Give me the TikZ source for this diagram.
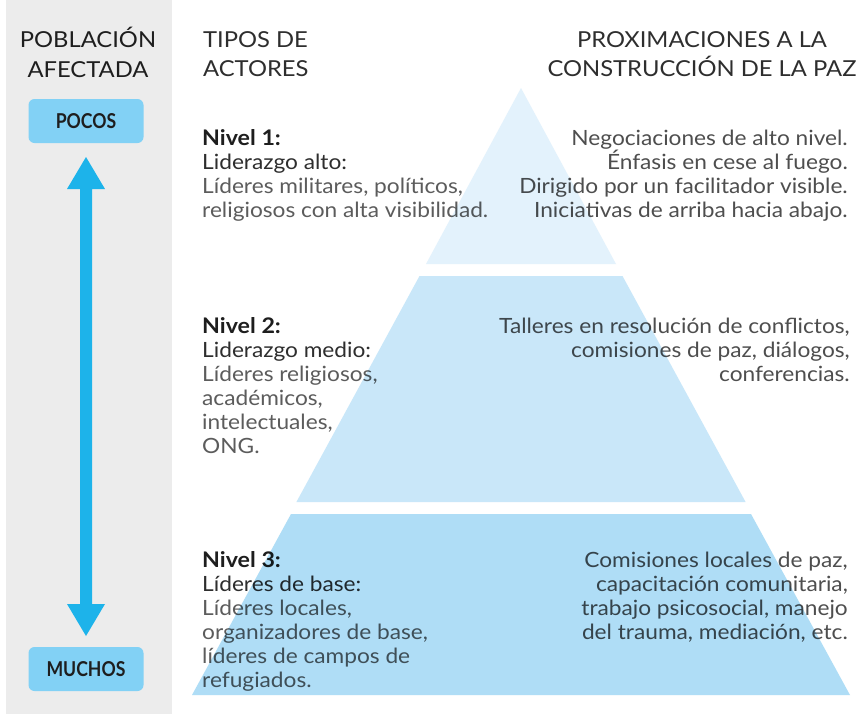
\documentclass[tikz,border=0pt]{standalone}
\usepackage{fontspec}
\setmainfont{Lato}[FakeStretch=1.08]
\newfontfamily\tagfont{Lato}[FakeStretch=0.86]
\definecolor{panel}{HTML}{ECECEC}
\definecolor{pyrA}{HTML}{E3F2FC}
\definecolor{pyrB}{HTML}{C9E7F9}
\definecolor{pyrC}{HTML}{AFDDF6}
\definecolor{arrowblue}{HTML}{1DB3EA}
\definecolor{boxblue}{HTML}{82D1F5}
\definecolor{dark}{HTML}{1E1E1E}
\definecolor{mid}{HTML}{2E2E2E}
\definecolor{soft}{HTML}{5C5C5C}
\definecolor{rtext}{HTML}{4E4E4E}
\begin{document}
\begin{tikzpicture}[x=1pt,y=-1pt,
  hdr/.style={anchor=base, inner sep=0, font=\fontsize{22}{26}\selectfont, text=mid},
  hdrL/.style={anchor=base west, inner sep=0, font=\fontsize{22}{26}\selectfont, text=mid},
  lvl/.style={anchor=base west, inner sep=0, font=\fontsize{21.5}{24}\selectfont\bfseries, text=dark},
  sub/.style={anchor=base west, inner sep=0, font=\fontsize{21}{24}\selectfont, text=mid},
  desc/.style={anchor=base west, inner sep=0, font=\fontsize{21}{24}\selectfont, text=soft},
  appr/.style={anchor=base east, inner sep=0, font=\fontsize{21}{24}\selectfont, text=rtext},
  tag/.style={fill=boxblue, rounded corners=6pt, minimum width=115pt, minimum height=44pt, inner sep=0, font=\tagfont\fontsize{20.5}{22}\selectfont\bfseries, text=dark},
  tier/.style={blend mode=multiply}
]
\useasboundingbox (0,0) rectangle (860,716);
\fill[white] (0,0) rectangle (860,716);
\fill[panel] (6,0) rectangle (172,714);

% left panel
\node[hdr, text=dark] (pob) at (88,47) {POBLACIÓN};
\node[hdr, text=dark] (afe) at (88,77) {AFECTADA};
\node[tag] (pocos) at (86,121) {POCOS};
\node[tag] (muchos) at (86,669) {MUCHOS};
\fill[arrowblue] (86,157) -- (105,189) -- (92,189) -- (92,604) -- (105,604) -- (86,636)
  -- (67,604) -- (80,604) -- (80,189) -- (67,189) -- cycle;

% headers
\node[hdrL] (tip1) at (203,47) {TIPOS DE};
\node[hdrL] (tip2) at (203,76) {ACTORES};
\node[hdr] (apr1) at (702,47) {PROXIMACIONES A LA};
\node[hdr] (apr2) at (702,76) {CONSTRUCCIÓN DE LA PAZ};

% level 1
\node[lvl] (n1) at (202,145) {Nivel 1:};
\node[sub] (n1a) at (202,169) {Liderazgo alto:};
\node[desc] (n1b) at (202,193) {Líderes militares, políticos,};
\node[desc] (n1c) at (202,217) {religiosos con alta visibilidad.};
\node[appr] (r1a) at (848,145) {Negociaciones de alto nivel.};
\node[appr] (r1b) at (848,169) {Énfasis en cese al fuego.};
\node[appr] (r1c) at (848,193) {Dirigido por un facilitador visible.};
\node[appr] (r1d) at (848,217) {Iniciativas de arriba hacia abajo.};

% level 2
\node[lvl] (n2) at (202,333) {Nivel 2:};
\node[sub] (n2a) at (202,357) {Liderazgo medio:};
\node[desc] (n2b) at (202,381) {Líderes religiosos,};
\node[desc] (n2c) at (202,405) {académicos,};
\node[desc] (n2d) at (202,429) {intelectuales,};
\node[desc] (n2e) at (202,453) {ONG.};
\node[appr] (r2a) at (850,333) {Talleres en resolución de conflictos,};
\node[appr] (r2b) at (850,357) {comisiones de paz, diálogos,};
\node[appr] (r2c) at (850,381) {conferencias.};

% level 3
\node[lvl] (n3) at (202,567) {Nivel 3:};
\node[sub] (n3a) at (202,591) {Líderes de base:};
\node[desc] (n3b) at (202,615) {Líderes locales,};
\node[desc] (n3c) at (202,639) {organizadores de base,};
\node[desc] (n3d) at (202,663) {líderes de campos de};
\node[desc] (n3e) at (202,687) {refugiados.};
\node[appr] (r3a) at (848,567) {Comisiones locales de paz,};
\node[appr] (r3b) at (848,591) {capacitación comunitaria,};
\node[appr] (r3c) at (848,615) {trabajo psicosocial, manejo};
\node[appr] (r3d) at (848,639) {del trauma, mediación, etc.};

% pyramid (multiplied over the text)
\fill[tier, pyrA] (521,88) -- (616,264) -- (426,264) -- cycle;
\fill[tier, pyrB] (419.5,276) -- (622.5,276) -- (745.6,502) -- (296.4,502) -- cycle;
\fill[tier, pyrC] (291,514) -- (751,514) -- (850,695) -- (192,695) -- cycle;
\end{tikzpicture}
\end{document}
